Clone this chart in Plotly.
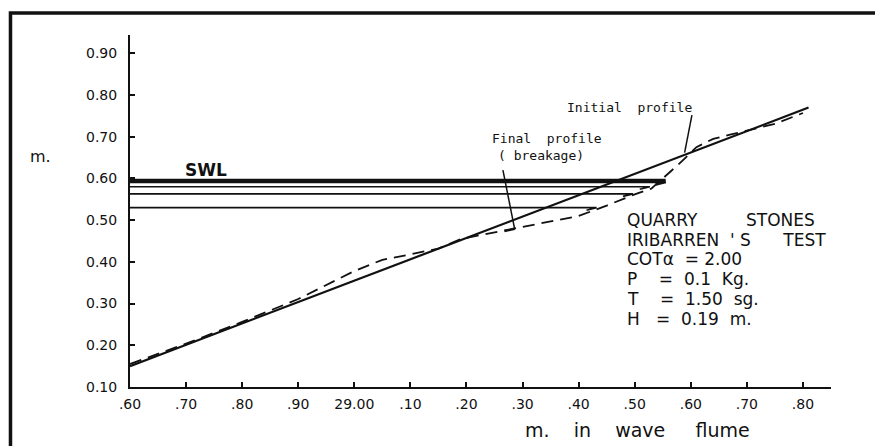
import plotly.graph_objects as go

# Initial (design) slope profile: straight line
initial_x = [28.60, 29.81]
initial_y = [0.150, 0.770]

# Final profile after breakage (measured)
final_x = [28.60, 28.70, 28.80, 28.90, 29.00, 29.05, 29.10, 29.15, 29.19,
           29.28, 29.35, 29.40, 29.45, 29.50, 29.53, 29.58, 29.61, 29.64,
           29.67, 29.70, 29.75, 29.80]
final_y = [0.155, 0.204, 0.256, 0.311, 0.378, 0.405, 0.418, 0.432, 0.455,
           0.478, 0.496, 0.510, 0.535, 0.562, 0.576, 0.636, 0.675, 0.695,
           0.705, 0.715, 0.731, 0.757]

# Still water levels and run-up extent of each
swl_levels = [0.594, 0.580, 0.563, 0.530]
swl_ends = [29.555, 29.527, 29.497, 29.432]
swl_widths = [4.5, 1.6, 1.6, 1.6]

x_ticks = [28.60, 28.70, 28.80, 28.90, 29.00, 29.10, 29.20, 29.30, 29.40,
           29.50, 29.60, 29.70, 29.80]
x_ticktext = [".60", ".70", ".80", ".90", "29.00", ".10", ".20", ".30",
              ".40", ".50", ".60", ".70", ".80"]
y_ticks = [0.10, 0.20, 0.30, 0.40, 0.50, 0.60, 0.70, 0.80, 0.90]

NB = "\u00a0"
info_lines = [
    "QUARRY" + NB * 9 + "STONES",
    "IRIBARREN" + NB * 2 + "'" + NB + "S" + NB * 6 + "TEST",
    "COT\u03b1" + NB * 2 + "=" + NB + "2.00",
    "P" + NB * 4 + "=" + NB * 2 + "0.1" + NB * 2 + "Kg.",
    "T" + NB * 4 + "=" + NB * 2 + "1.50" + NB * 2 + "sg.",
    "H" + NB * 3 + "=" + NB * 2 + "0.19" + NB * 2 + "m.",
]

INK = "#111111"
SANS = "DejaVu Sans"
MONO = "DejaVu Sans Mono"

fig = go.Figure()

# water level lines, each ending in a small arrow barb
for lvl, end, w in zip(swl_levels, swl_ends, swl_widths):
    fig.add_trace(go.Scatter(
        x=[initial_x[0], end, end - 0.018],
        y=[lvl, lvl, lvl - 0.006],
        mode="lines", line=dict(color=INK, width=w),
        hoverinfo="skip", showlegend=False))

fig.add_trace(go.Scatter(
    x=initial_x, y=initial_y, mode="lines",
    line=dict(color=INK, width=2.2), name="Initial profile",
    showlegend=False))

fig.add_trace(go.Scatter(
    x=final_x, y=final_y, mode="lines",
    line=dict(color=INK, width=1.8, dash="12px,7px"),
    name="Final profile (breakage)", showlegend=False))

# leader lines from labels to the profiles
leaders = [
    dict(x0=29.602, y0=0.752, x1=29.589, y1=0.662),
    dict(x0=29.265, y0=0.620, x1=29.286, y1=0.478),
    dict(x0=29.286, y0=0.478, x1=29.268, y1=0.473),
]
for ld in leaders:
    fig.add_shape(type="line", xref="x", yref="y", line=dict(color=INK, width=1.5), **ld)

# outer frame
fig.add_shape(type="rect", xref="paper", yref="paper",
              x0=-0.1705, x1=1.2, y0=-0.4, y1=1.0625,
              line=dict(color=INK, width=3.5), fillcolor="rgba(0,0,0,0)")


def label(text, x, y, xref="x", yref="y", size=13, family=SANS, xanchor="center", **kw):
    return dict(x=x, y=y, text=text, xref=xref, yref=yref, showarrow=False,
                xanchor=xanchor, yanchor="middle",
                font=dict(family=family, size=size, color=INK, **kw))


ann = [
    label("SWL", 28.735, 0.620, size=17, weight="bold"),
    label("Initial" + NB * 2 + "profile", 29.491, 0.770, family=MONO),
    label("Final" + NB * 2 + "profile", 29.343, 0.697, family=MONO),
    label("(" + NB + "breakage)", 29.333, 0.654, family=MONO),
    label("m.", -0.127, 0.656, xref="paper", yref="paper", size=16),
    label("m." + NB * 4 + "in" + NB * 4 + "wave" + NB * 5 + "flume", 29.300, -0.123,
          yref="paper", size=19, xanchor="left"),
]
for i, line in enumerate(info_lines):
    ann.append(label(line, 0.706, 0.475 - i * 0.0561, xref="paper", yref="paper",
                     size=17, xanchor="left"))

fig.update_layout(
    width=875, height=446,
    margin=dict(l=130, r=44, t=35, b=59),
    paper_bgcolor="white", plot_bgcolor="white",
    annotations=ann,
    xaxis=dict(range=[28.60, 29.85], tickvals=x_ticks, ticktext=x_ticktext,
               showgrid=False, zeroline=False, showline=True, linecolor=INK,
               linewidth=2, ticks="inside", ticklen=5, tickwidth=1.5, tickcolor=INK,
               ticklabelstandoff=3,
               tickfont=dict(family=SANS, size=14, color=INK)),
    yaxis=dict(range=[0.10, 0.944], tickvals=y_ticks, tickformat=".2f",
               showgrid=False, zeroline=False, showline=True, linecolor=INK,
               linewidth=2, ticks="inside", ticklen=5, tickwidth=1.5, tickcolor=INK,
               ticklabelstandoff=8,
               tickfont=dict(family=SANS, size=14, color=INK)),
)

fig.write_html("out.html")
